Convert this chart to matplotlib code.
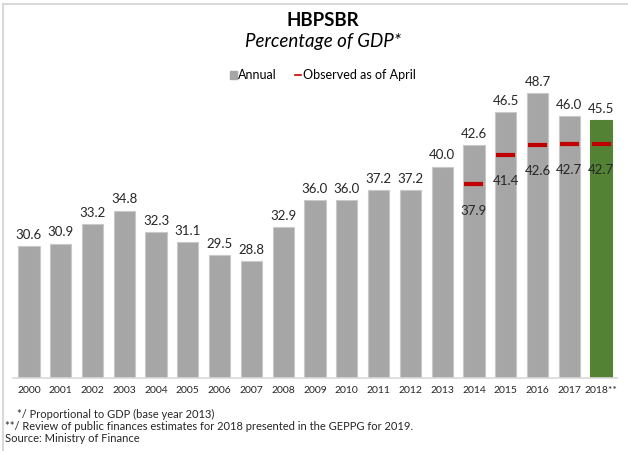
#!/usr/bin/env python3

import matplotlib.pyplot as plt
from matplotlib.lines import Line2D
from matplotlib.patches import Patch

plt.rcParams['font.family'] = ['Lato', 'DejaVu Sans']

years = ['2000', '2001', '2002', '2003', '2004', '2005', '2006', '2007', '2008', '2009',
         '2010', '2011', '2012', '2013', '2014', '2015', '2016', '2017', '2018**']
annual = [30.6, 30.9, 33.2, 34.8, 32.3, 31.1, 29.5, 28.8, 32.9, 36.0,
          36.0, 37.2, 37.2, 40.0, 42.6, 46.5, 48.7, 46.0, 45.5]
# observed as of April, only for last five years
observed_years = ['2014', '2015', '2016', '2017', '2018**']
observed = [37.9, 41.4, 42.6, 42.7, 42.7]

footnotes = [
    '*/ Proportional to GDP (base year 2013)',
    '**/ Review of public finances estimates for 2018 presented in the GEPPG for 2019.',
    'Source: Ministry of Finance',
]

gray = '#A6A6A6'
green = '#548235'
red = '#C00000'

fig = plt.figure(figsize=(6.28, 4.51), dpi=100)
ax = fig.add_axes([13 / 628, 1 - 378 / 451, 604 / 628, 296 / 451])

x = list(range(len(years)))
colors = [gray] * (len(years) - 1) + [green]
edges = ['#C9C9C9'] * (len(years) - 1) + [green]
ax.bar(x, annual, width=0.67, bottom=0, color=colors, edgecolor=edges, linewidth=0.8, zorder=2)

for xi, v in zip(x, annual):
    ax.text(xi, v + 0.6, f'{v:.1f}', ha='center', va='bottom', fontsize=9.5, color='#262626')

obs_x = [years.index(y) for y in observed_years]
ax.hlines(observed, [i - 0.3 for i in obs_x], [i + 0.3 for i in obs_x],
          colors=red, linewidth=3, zorder=3)
for xi, v in zip(obs_x, observed):
    ax.text(xi, v - 2.4, f'{v:.1f}', ha='center', va='top', fontsize=9.5, color='#262626', zorder=4)

ax.set_ylim(15, 50)
ax.set_xlim(-0.5, len(years) - 0.5)
ax.set_yticks([])
ax.set_xticks(x)
ax.set_xticklabels(years, fontsize=7.5, color='#262626')
ax.tick_params(axis='x', length=0, pad=6)
for s in ['top', 'right', 'left']:
    ax.spines[s].set_visible(False)
ax.spines['bottom'].set_color('#D9D9D9')
ax.spines['bottom'].set_linewidth(1.2)

fig.text(323 / 628, 1 - 20 / 451, 'HBPSBR', ha='center', va='center', fontsize=13.5, fontweight='bold')
fig.text(323 / 628, 1 - 42 / 451, 'Percentage of GDP*', ha='center', va='center', fontsize=13.5, style='italic')

handles = [Patch(facecolor=gray, edgecolor=gray, label='Annual'),
           Line2D([0], [0], color=red, linewidth=1.2, label='Observed as of April')]
fig.legend(handles=handles, loc='center', bbox_to_anchor=(323 / 628, 1 - 75 / 451), ncol=2,
           frameon=False, fontsize=9, handlelength=0.5, handleheight=0.6, handletextpad=0.15,
           columnspacing=1.4)

for i, line in enumerate(footnotes):
    left = 17 if i == 0 else 5
    fig.text(left / 628, 1 - (414 + i * 12.5) / 451, line, ha='left', va='center', fontsize=8, color='#262626')

# light frame at left and top
fig.add_artist(Line2D([3 / 628, 3 / 628], [0, 1 - 4 / 451], transform=fig.transFigure, color='#D9D9D9', linewidth=1.5))
fig.add_artist(Line2D([3 / 628, 1], [1 - 4 / 451, 1 - 4 / 451], transform=fig.transFigure, color='#D9D9D9', linewidth=1.5))

fig.savefig('out.png', dpi=100)
